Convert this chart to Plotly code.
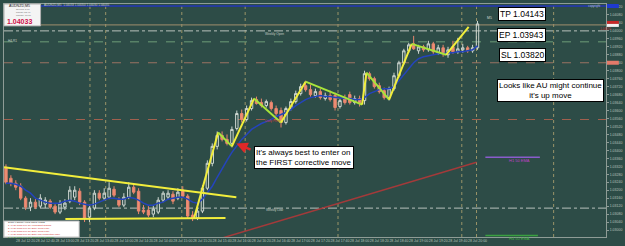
import plotly.graph_objects as go

# ---------------- data (AUD M5 bars) ----------------
BAR = list(range(97))
OPEN = [1.03315, 1.03260, 1.03235, 1.03220, 1.03160, 1.03115, 1.03140, 1.03120, 1.03130, 1.03145,
        1.03120, 1.03090, 1.03115, 1.03145, 1.03165, 1.03195, 1.03140, 1.03065, 1.03110, 1.03185,
        1.03160, 1.03165, 1.03205, 1.03150, 1.03125, 1.03165, 1.03215, 1.03195, 1.03100, 1.03100,
        1.03080, 1.03090, 1.03150, 1.03165, 1.03180, 1.03160, 1.03200, 1.03170, 1.03075, 1.03060,
        1.03095, 1.03210, 1.03335, 1.03420, 1.03475, 1.03455, 1.03435, 1.03510, 1.03585, 1.03555,
        1.03610, 1.03655, 1.03640, 1.03625, 1.03640, 1.03610, 1.03600, 1.03540, 1.03610, 1.03645,
        1.03685, 1.03725, 1.03705, 1.03675, 1.03695, 1.03660, 1.03675, 1.03675, 1.03620, 1.03660,
        1.03680, 1.03640, 1.03660, 1.03650, 1.03785, 1.03760, 1.03725, 1.03700, 1.03665, 1.03710,
        1.03775, 1.03840, 1.03900, 1.03935, 1.03900, 1.03920, 1.03905, 1.03935, 1.03890, 1.03915,
        1.03880, 1.03920, 1.03895, 1.03905, 1.03915, 1.03900, 1.03915]
HIGH = [1.03330, 1.03275, 1.03250, 1.03235, 1.03170, 1.03160, 1.03155, 1.03180, 1.03165, 1.03155,
        1.03130, 1.03150, 1.03155, 1.03220, 1.03220, 1.03210, 1.03150, 1.03120, 1.03200, 1.03200,
        1.03210, 1.03240, 1.03220, 1.03165, 1.03185, 1.03240, 1.03230, 1.03210, 1.03125, 1.03120,
        1.03125, 1.03165, 1.03195, 1.03200, 1.03195, 1.03210, 1.03220, 1.03180, 1.03095, 1.03110,
        1.03225, 1.03350, 1.03435, 1.03495, 1.03495, 1.03480, 1.03520, 1.03600, 1.03605, 1.03625,
        1.03665, 1.03670, 1.03660, 1.03655, 1.03650, 1.03625, 1.03615, 1.03620, 1.03660, 1.03700,
        1.03735, 1.03750, 1.03730, 1.03710, 1.03710, 1.03690, 1.03700, 1.03690, 1.03660, 1.03680,
        1.03695, 1.03675, 1.03675, 1.03800, 1.03795, 1.03770, 1.03740, 1.03715, 1.03720, 1.03790,
        1.03850, 1.03910, 1.03940, 1.03975, 1.03930, 1.03930, 1.03950, 1.03945, 1.03930, 1.03930,
        1.03920, 1.03950, 1.03965, 1.03935, 1.03925, 1.03930, 1.04050]
LOW = [1.03230, 1.03220, 1.03200, 1.03150, 1.03100, 1.03095, 1.03105, 1.03110, 1.03110, 1.03105,
       1.03080, 1.03080, 1.03100, 1.03135, 1.03150, 1.03125, 1.03040, 1.03040, 1.03100, 1.03150,
       1.03150, 1.03155, 1.03165, 1.03115, 1.03115, 1.03155, 1.03180, 1.03080, 1.03080, 1.03065,
       1.03065, 1.03080, 1.03140, 1.03155, 1.03130, 1.03150, 1.03160, 1.03060, 1.03045, 1.03050,
       1.03085, 1.03200, 1.03320, 1.03405, 1.03445, 1.03425, 1.03415, 1.03500, 1.03540, 1.03545,
       1.03600, 1.03630, 1.03615, 1.03615, 1.03600, 1.03570, 1.03515, 1.03530, 1.03600, 1.03635,
       1.03675, 1.03695, 1.03670, 1.03665, 1.03655, 1.03650, 1.03645, 1.03600, 1.03610, 1.03630,
       1.03630, 1.03630, 1.03620, 1.03630, 1.03750, 1.03710, 1.03685, 1.03655, 1.03650, 1.03700,
       1.03765, 1.03830, 1.03890, 1.03905, 1.03885, 1.03895, 1.03895, 1.03885, 1.03880, 1.03870,
       1.03865, 1.03885, 1.03885, 1.03890, 1.03890, 1.03890, 1.03905]
CLOSE = [1.03240, 1.03235, 1.03215, 1.03160, 1.03115, 1.03140, 1.03115, 1.03160, 1.03150, 1.03115,
         1.03090, 1.03135, 1.03135, 1.03200, 1.03200, 1.03140, 1.03060, 1.03110, 1.03185, 1.03160,
         1.03185, 1.03210, 1.03175, 1.03125, 1.03165, 1.03215, 1.03190, 1.03095, 1.03090, 1.03075,
         1.03105, 1.03150, 1.03185, 1.03185, 1.03145, 1.03190, 1.03170, 1.03070, 1.03060, 1.03095,
         1.03210, 1.03335, 1.03420, 1.03475, 1.03455, 1.03435, 1.03505, 1.03585, 1.03555, 1.03610,
         1.03650, 1.03635, 1.03625, 1.03645, 1.03610, 1.03585, 1.03540, 1.03610, 1.03645, 1.03685,
         1.03720, 1.03705, 1.03680, 1.03695, 1.03665, 1.03675, 1.03655, 1.03615, 1.03650, 1.03640,
         1.03640, 1.03660, 1.03635, 1.03785, 1.03760, 1.03720, 1.03695, 1.03665, 1.03710, 1.03775,
         1.03840, 1.03900, 1.03930, 1.03910, 1.03920, 1.03905, 1.03935, 1.03895, 1.03915, 1.03885,
         1.03905, 1.03895, 1.03910, 1.03915, 1.03900, 1.03915, 1.04035]
EMA = [1.03235, 1.03235, 1.03230, 1.03220, 1.03200, 1.03185, 1.03160, 1.03150, 1.03140, 1.03135,
       1.03135, 1.03135, 1.03145, 1.03150, 1.03145, 1.03135, 1.03130, 1.03125, 1.03130, 1.03140,
       1.03150, 1.03160, 1.03160, 1.03155, 1.03155, 1.03165, 1.03160, 1.03150, 1.03135, 1.03125,
       1.03125, 1.03135, 1.03140, 1.03155, 1.03160, 1.03165, 1.03165, 1.03155, 1.03140, 1.03135,
       1.03155, 1.03185, 1.03220, 1.03265, 1.03310, 1.03350, 1.03390, 1.03425, 1.03455, 1.03480,
       1.03505, 1.03520, 1.03535, 1.03545, 1.03555, 1.03570, 1.03580, 1.03590, 1.03605, 1.03625,
       1.03640, 1.03655, 1.03665, 1.03670, 1.03675, 1.03670, 1.03670, 1.03665, 1.03665, 1.03660,
       1.03660, 1.03655, 1.03655, 1.03665, 1.03685, 1.03695, 1.03705, 1.03710, 1.03710, 1.03720,
       1.03750, 1.03785, 1.03815, 1.03840, 1.03860, 1.03870, 1.03875, 1.03880, 1.03885, 1.03885,
       1.03890, 1.03890, 1.03895, 1.03895, 1.03900, 1.03905, 1.03925]

# zig-zag swing points (bar position, price)
ZIG_BAR = [38.3, 43.2, 46.0, 50.5, 56.0, 61.0, 72.5, 73.4, 78.0, 82.6, 89.6, 94.2]
ZIG_PRICE = [1.03060, 1.03490, 1.03420, 1.03660, 1.03540, 1.03745, 1.03630, 1.03790,
             1.03655, 1.03935, 1.03880, 1.04020]
# consolidation trendlines
RES_BAR, RES_PRICE = [-0.4, 46.9], [1.03315, 1.03165]
SUP_BAR, SUP_PRICE = [12.1, 44.7], [1.03055, 1.03060]
# higher-timeframe line (red diagonal)
HTF_BAR, HTF_PRICE = [41.3, 95.8], [1.02940, 1.03340]
# horizontal levels
LEVELS = [
    (1.04125, '#2236b8', 'solid', 1.5),
    (1.04030, '#a08e6c', 'solid', 1),
    (1.04000, '#b8c2bc', 'dashdot', 1),
    (1.03945, '#6e9c78', 'dash', 1),
    (1.03840, '#9a7262', 'dash', 1),
    (1.03555, '#a0604e', 'dash', 1),
    (1.03110, '#b8c2bc', 'dashdot', 1),
]
EMA_LEVELS = [(97.6, 108.7, 1.03365, '#8a5ccc', 'H1 50 EMA', '#c040c8'),
              (97.6, 108.3, 1.02972, '#3aa040', 'H4 50 EMA', '#40b040')]
VGRID_BAR = [17.1, 20.3, 35.8, 48.7, 67.6, 92.8, 95.8, 111.5]
TICK_BARS = list(range(0, 97, 4))
TICK_LABELS = ['28 Jul 12:00', '28 Jul 12:20', '28 Jul 12:40', '28 Jul 13:00', '28 Jul 13:20',
               '28 Jul 13:40', '28 Jul 14:00', '28 Jul 14:20', '28 Jul 14:40', '28 Jul 15:00',
               '28 Jul 15:20', '28 Jul 15:40', '28 Jul 16:00', '28 Jul 16:20', '28 Jul 16:40',
               '28 Jul 17:00', '28 Jul 17:20', '28 Jul 17:40', '28 Jul 18:00', '28 Jul 18:20',
               '28 Jul 18:40', '28 Jul 19:00', '28 Jul 19:20', '28 Jul 19:40', '28 Jul 20:00']
LEGEND_LINES = [('SIGNAL ENTRY PRO INDICATORS', '#303030'),
                ('1 Arr 20 cross over 50: Long/Short Signals', '#d02828'),
                ('2 Arr 20 cross over 50: Entry Trend Filter', '#d02828'),
                ('3 Arr 20 cross over 50: Entry Trend Filter', '#d02828'),
                ('4 Arr 20 cross over 50: Entry Pair Momentum Index', '#d02828'),
                ('5 Arr 20 cross over 50: Swing Trade Manager', '#28a028')]

# ---------------- styling ----------------
W, H = 625, 246
ML, MR, MT, MB = 3, 13, 3, 9
PW, PH = W - ML - MR, H - MT - MB
BG = '#2d4c47'
GRID = '#9a9468'
YELLOW = '#f2ee3c'
GREEN = '#a8e43a'
FONT = 'Liberation Sans, Arial, sans-serif'


def px(x):
    return (x - ML) / PW


def py(y):
    return 1 - (y - MT) / PH


fig = go.Figure()
fig.add_trace(go.Candlestick(
    x=BAR, open=OPEN, high=HIGH, low=LOW, close=CLOSE,
    increasing=dict(line=dict(color='#cdd6d0', width=1), fillcolor='rgba(0,0,0,0)'),
    decreasing=dict(line=dict(color='#e8866e', width=1), fillcolor='#ef8d74'),
    whiskerwidth=0, showlegend=False, hoverinfo='skip'))
fig.add_trace(go.Scatter(x=BAR, y=EMA, mode='lines', line=dict(color='#2444bc', width=1.5),
                         hoverinfo='skip'))
fig.add_trace(go.Scatter(x=HTF_BAR, y=HTF_PRICE, mode='lines', line=dict(color='#a33a3a', width=1.5),
                         hoverinfo='skip'))
fig.add_trace(go.Scatter(x=RES_BAR, y=RES_PRICE, mode='lines', line=dict(color=YELLOW, width=2)))
fig.add_trace(go.Scatter(x=SUP_BAR, y=SUP_PRICE, mode='lines', line=dict(color=YELLOW, width=2)))
for k in range(len(ZIG_BAR) - 1):
    col = YELLOW if k % 2 == 0 else GREEN
    fig.add_trace(go.Scatter(x=ZIG_BAR[k:k + 2], y=ZIG_PRICE[k:k + 2], mode='lines',
                             line=dict(color=col, width=2), hoverinfo='skip'))
for x0, x1, lv, col, name, tcol in EMA_LEVELS:
    fig.add_trace(go.Scatter(x=[x0, x1], y=[lv, lv], mode='lines', line=dict(color=col, width=1.5),
                             hoverinfo='skip'))

shapes = []
for xv in VGRID_BAR:
    shapes.append(dict(type='line', xref='x', yref='paper', x0=xv, x1=xv, y0=0, y1=1,
                       line=dict(color=GRID, width=1, dash='dot'), layer='below'))
for lv, col, dash, wd in LEVELS:
    shapes.append(dict(type='line', xref='paper', yref='y', x0=0, x1=1, y0=lv, y1=lv,
                       line=dict(color=col, width=wd, dash=dash), layer='below'))
# info panels
shapes.append(dict(type='rect', xref='paper', yref='paper', x0=px(3), x1=px(40), y0=py(25), y1=py(3),
                   fillcolor='#f4f4f4', line=dict(color='#b0b0b0', width=1)))
shapes.append(dict(type='rect', xref='paper', yref='paper', x0=px(3), x1=px(79), y0=py(237), y1=py(221),
                   fillcolor='#ffffff', line=dict(color='#c0c0c0', width=1)))
# right-scale price tags
for y0, y1, c in [(3, 7, '#1f3ad0'), (20, 23, '#c82828'), (23, 26, '#f2f2f2'), (60, 64, '#e47a6a')]:
    shapes.append(dict(type='rect', xref='paper', yref='paper', x0=px(613), x1=px(625),
                       y0=py(y1), y1=py(y0), fillcolor=c, line=dict(width=0)))

ann = []


def box(text, x, y, size, align='center'):
    ann.append(dict(text=text, xref='paper', yref='paper', x=px(x), y=py(y), xanchor='center',
                    yanchor='middle', showarrow=False, align=align,
                    font=dict(family=FONT, size=size, color='#000000'),
                    bgcolor='#ffffff', bordercolor='#000000', borderwidth=1, borderpad=1))


def tiny(text, x, y, size=4, color='#c4ccc6', anchor='left', yanchor='middle', align='left'):
    ann.append(dict(text=text, xref='paper', yref='paper', x=px(x), y=py(y), xanchor=anchor,
                    yanchor=yanchor, showarrow=False, align=align,
                    font=dict(family=FONT, size=size, color=color)))


box('TP 1.04143', 527.5, 13, 8.5)
box('EP 1.03943', 527, 34, 8.5)
box('SL 1.03820', 527.5, 54.5, 8.5)
box("Looks like AU might continue<br>it's up move", 555.5, 90, 8)
box("It's always best to enter on<br>the FIRST corrective move", 306, 157.5, 8, align='left')

# arrow towards the first corrective low
ann.append(dict(text='', x=46.9, y=1.03435, ax=50.1, ay=1.03400, xref='x', yref='y', axref='x',
                ayref='y', showarrow=True, arrowhead=2, arrowsize=0.9, arrowwidth=2.5,
                arrowcolor='#e02828'))

# info box texts
tiny('AUDNZD,M5', 6, 5, 3.6, '#202020')
tiny('Spread: 3.10<br>Range: 55.40<br>Candle: 17:00', 13, 12, 2.4, '#707070')
ann.append(dict(text='<b>1.04033</b>', xref='paper', yref='paper', x=px(18.5), y=py(20.5),
                xanchor='center', yanchor='middle', showarrow=False,
                font=dict(family=FONT, size=7, color='#cc1048')))
tiny('AUDNZD,M5  1.04033 1.04050 1.04030 1.04035', 41, 4, 3, '#c4ccc6')
legend_html = '<br>'.join("<span style='color:%s'>%s</span>" % (c, t) for t, c in LEGEND_LINES)
tiny(legend_html, 5, 229, 2.3, '#303030')
tiny('Weekly Open', 265, 33, 3.2)
tiny('Daily Pivot', 265, 121, 3.2, '#d04040')
tiny('Weekly Low', 266, 210, 3.2)
tiny('H4 R1', 5, 40, 3.2)
tiny('M5', 490, 17, 3.5, '#d0d8d2')
tiny('copyright', 608, 5, 3, '#b8c2bc', anchor='right')
for x0, x1, lv, col, name, tcol in EMA_LEVELS:
    ann.append(dict(text=name, x=(x0 + x1) / 2 + 1.5, y=lv, xref='x', yref='y', yshift=-3,
                    showarrow=False, font=dict(family=FONT, size=4, color=tcol)))
ann.append(dict(text='1.04035', xref='paper', yref='paper', x=px(619), y=py(24.5), showarrow=False,
                font=dict(family=FONT, size=3, color='#c82828')))

fig.update_layout(
    width=W, height=H, margin=dict(l=ML, r=MR, t=MT, b=MB),
    paper_bgcolor=BG, plot_bgcolor=BG, showlegend=False,
    shapes=shapes, annotations=ann,
    xaxis=dict(range=[-0.4, 122.16], rangeslider=dict(visible=False), showgrid=False,
               zeroline=False, tickmode='array', tickvals=TICK_BARS, ticktext=TICK_LABELS,
               tickangle=0, tickfont=dict(family=FONT, size=3.5, color='#b8c4bc'), ticks='',
               showline=True, mirror=True, linecolor='#8e9c96', linewidth=1),
    yaxis=dict(side='right', range=[1.02965, 1.04135], showgrid=False, zeroline=False,
               dtick=0.0004, tickformat='.5f', tickfont=dict(family=FONT, size=3.5, color='#b8c4bc'),
               ticks='outside', ticklen=2, tickcolor='#8e9c96',
               showline=True, mirror=True, linecolor='#8e9c96', linewidth=1),
)

fig.write_html('out.html')
